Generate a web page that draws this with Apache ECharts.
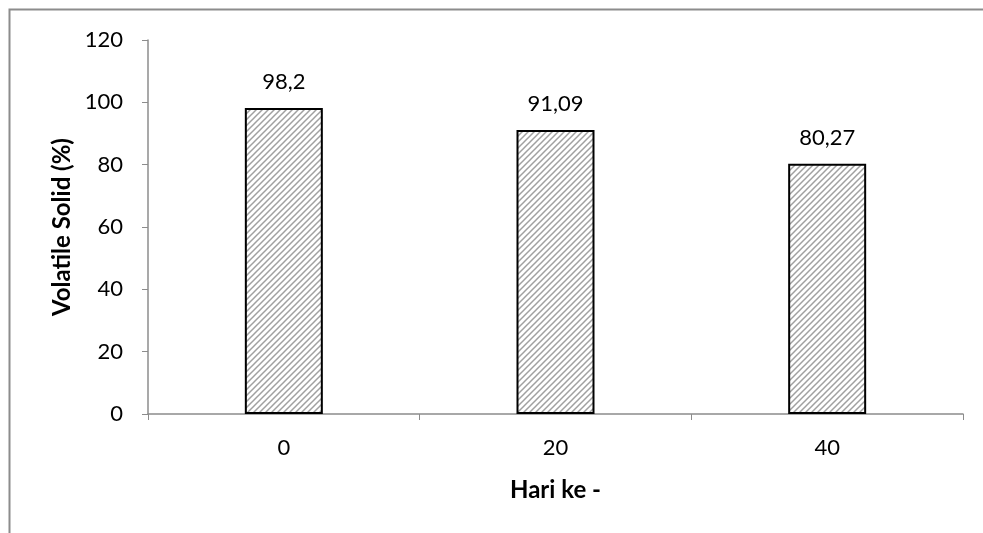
<!DOCTYPE html>
<html><head><meta charset="utf-8">
<script src="https://cdn.jsdelivr.net/npm/echarts@6/dist/echarts.min.js"></script>
<style>html,body{margin:0;padding:0;background:#fff}#c{width:983px;height:533px}</style>
</head><body><div id="c"></div>
<script>
const categories = ['0', '20', '40'];
const values = [98.2, 91.09, 80.27];
const labels = ['98,2', '91,09', '80,27'];
const yTicks = [0, 20, 40, 60, 80, 100, 120];

function hatch() {
  const c = document.createElement('canvas');
  c.width = 6; c.height = 6;
  const g = c.getContext('2d');
  g.fillStyle = '#ffffff'; g.fillRect(0, 0, 6, 6);
  g.strokeStyle = '#a0a0a0'; g.lineWidth = 1.5;
  g.beginPath();
  g.moveTo(-1, 7); g.lineTo(7, -1);
  g.moveTo(-4, 4); g.lineTo(4, -4);
  g.moveTo(2, 10); g.lineTo(10, 2);
  g.stroke();
  return c;
}
const font = 'Lato, "Open Sans", sans-serif';
const chart = echarts.init(document.getElementById('c'), null, {renderer: 'canvas'});
chart.setOption({
  animation: false,
  graphic: [{type: 'polyline', shape: {points: [[9.5, 533], [9.5, 9.5], [983, 9.5]]}, style: {stroke: '#8c8c8c', lineWidth: 2, fill: null}}],
  grid: {left: 148, top: 40, right: 20, bottom: 119},
  xAxis: {
    type: 'category', data: categories,
    axisLine: {lineStyle: {color: '#8c8c8c', width: 1.5}},
    axisTick: {show: true, length: 6, lineStyle: {color: '#8c8c8c'}},
    axisLabel: {color: '#000', fontSize: 22, fontFamily: font, margin: 23},
    name: 'Hari ke -', nameLocation: 'middle', nameGap: 64,
    nameTextStyle: {color: '#000', fontSize: 24, fontWeight: 'bold', fontFamily: font}
  },
  yAxis: {
    type: 'value', min: yTicks[0], max: yTicks[yTicks.length - 1], interval: 20,
    axisLine: {show: true, lineStyle: {color: '#8c8c8c', width: 1.5}},
    axisTick: {show: true, length: 6, lineStyle: {color: '#8c8c8c'}},
    splitLine: {show: false},
    axisLabel: {color: '#000', fontSize: 22, fontFamily: font, margin: 25},
    name: 'Volatile Solid (%)', nameLocation: 'middle', nameGap: 74,
    nameTextStyle: {color: '#000', fontSize: 24, fontWeight: 'bold', fontFamily: font}
  },
  series: [{
    type: 'bar', data: values, barWidth: 78,
    itemStyle: {color: {image: hatch(), repeat: 'repeat'}, borderColor: '#000', borderWidth: 2},
    label: {show: true, position: 'top', distance: 15, color: '#000', fontSize: 22, fontFamily: font,
      formatter: p => labels[p.dataIndex]}
  }]
});
</script></body></html>
